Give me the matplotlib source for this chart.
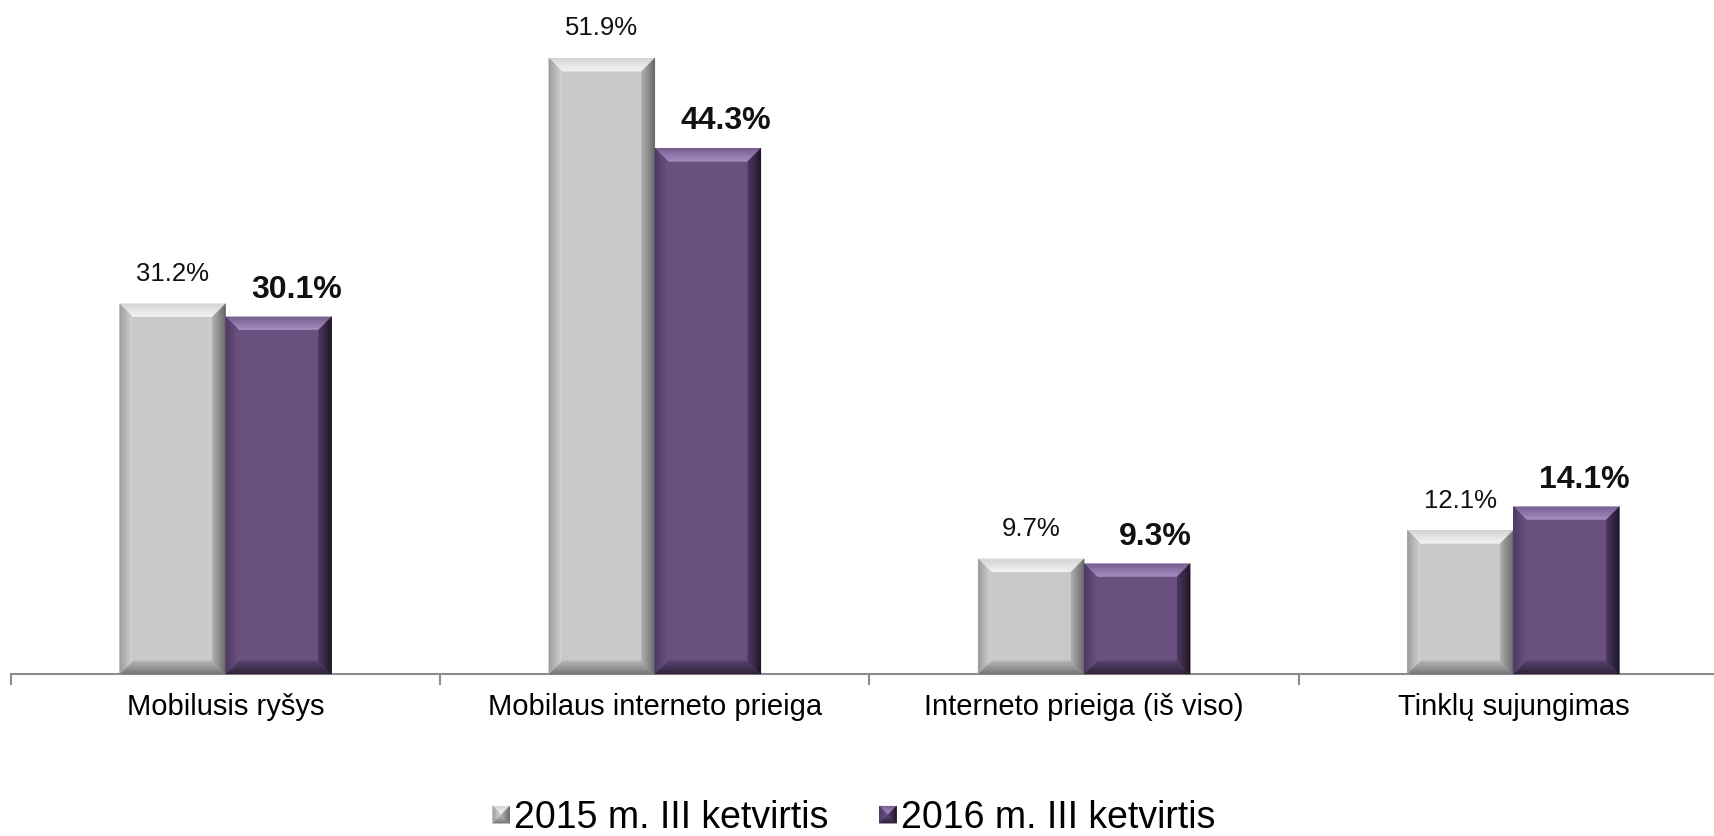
import matplotlib
matplotlib.use("Agg")
import matplotlib.pyplot as plt
import numpy as np
from matplotlib.patches import Polygon
from matplotlib.transforms import IdentityTransform
from matplotlib.legend_handler import HandlerBase
from matplotlib.colors import to_rgb

plt.rcParams['font.family'] = ['Liberation Sans', 'DejaVu Sans']

categories = ["Mobilusis ryšys", "Mobilaus interneto prieiga",
              "Interneto prieiga (iš viso)", "Tinklų sujungimas"]
series_names = ["2015 m. III ketvirtis", "2016 m. III ketvirtis"]
values_2015 = [31.2, 51.9, 9.7, 12.1]
values_2016 = [30.1, 44.3, 9.3, 14.1]

GRAY = dict(face="#c9c9c9", top=("#d4d4d4", "#f4f4f4"), left=("#9a9a9a", "#d2d2d2"),
            right=("#646464", "#acacac"), bottom=("#727272", "#b4b4b4"))
PURP = dict(face="#69507f", top=("#785f92", "#a68ec2"), left=("#4c3860", "#6a5282"),
            right=("#1c1424", "#4a3860"), bottom=("#2c2036", "#56416c"))

DPI = 100
fig = plt.figure(figsize=(17.15, 8.36), dpi=DPI)
ax = fig.add_axes([11 / 1715, 162 / 836, 1717 / 1715, 674 / 836])

x = np.arange(len(categories))
w = 0.247
bars1 = ax.bar(x - w / 2, values_2015, w, color=GRAY["face"], zorder=2)
bars2 = ax.bar(x + w / 2, values_2016, w, color=PURP["face"], zorder=2)

ax.set_xlim(-0.5, len(categories) - 0.5)
ax.set_ylim(0, 56.8)
for s in ["top", "right", "left"]:
    ax.spines[s].set_visible(False)
ax.spines["bottom"].set_color("#8c8c8c")
ax.spines["bottom"].set_linewidth(1.5)
ax.set_yticks([])
ax.set_xticks(np.arange(len(categories) + 1) - 0.5)
ax.set_xticklabels([])
ax.tick_params(axis="x", which="major", length=8, width=1.5, color="#8c8c8c", direction="out")
ax.set_xticks(x, minor=True)
ax.set_xticklabels(categories, minor=True, fontsize=21)
ax.tick_params(axis="x", which="minor", length=0, pad=14)


def mix(c1, c2, t):
    a, b = np.array(to_rgb(c1)), np.array(to_rgb(c2))
    return tuple(a + (b - a) * t)


def bevel_polys(x0, y0, x1, y1, b, n, style, add):
    for i in range(n):
        d0 = b * i / n
        d1 = b * (i + 1) / n
        t = (i + 0.5) / n
        ox0, oy0, ox1, oy1 = x0 + d0, y0 + d0, x1 - d0, y1 - d0
        ix0, iy0, ix1, iy1 = x0 + d1, y0 + d1, x1 - d1, y1 - d1
        add([(ox0, oy1), (ox1, oy1), (ix1, iy1), (ix0, iy1)], mix(*style["top"], t))
        add([(ox0, oy0), (ox1, oy0), (ix1, iy0), (ix0, iy0)], mix(*style["bottom"], t))
        add([(ox0, oy0), (ix0, iy0), (ix0, iy1), (ox0, oy1)], mix(*style["left"], t))
        add([(ox1, oy0), (ix1, iy0), (ix1, iy1), (ox1, oy1)], mix(*style["right"], t))


def add_bevels(bars, style, b=13, n=7):
    def add(pts, c):
        fig.patches.append(Polygon(pts, closed=True, facecolor=c, edgecolor=c, lw=0.3,
                                   transform=IdentityTransform(), figure=fig, zorder=2.5))
    for r in bars:
        (px0, py0) = ax.transData.transform((r.get_x(), 0))
        (px1, py1) = ax.transData.transform((r.get_x() + r.get_width(), r.get_height()))
        bevel_polys(px0, py0, px1, py1, b, n, style, add)


add_bevels(bars1, GRAY)
add_bevels(bars2, PURP)

for r, v in zip(bars1, values_2015):
    ax.annotate(f"{v:.1f}%", (r.get_x() + r.get_width() / 2, v), xytext=(0, 21.5),
                textcoords="offset points", ha="center", va="center", fontsize=18.5, color="#111111")
for r, v in zip(bars2, values_2016):
    ax.annotate(f"{v:.1f}%", (r.get_x() + r.get_width() / 2, v), xytext=(13, 19.5),
                textcoords="offset points", ha="center", va="center", fontsize=23,
                fontweight="bold", color="#111111")


class BevelHandler(HandlerBase):
    def __init__(self, style):
        super().__init__()
        self.style = style

    def create_artists(self, legend, orig_handle, xdescent, ydescent, width, height, fontsize, trans):
        s = min(width, height)
        x0 = -xdescent + (width - s) / 2
        y0 = -ydescent + (height - s) / 2
        x1, y1 = x0 + s, y0 + s
        arts = []
        arts.append(Polygon([(x0, y0), (x1, y0), (x1, y1), (x0, y1)], closed=True,
                            facecolor=self.style["face"], edgecolor="none", transform=trans))

        def add(pts, c):
            arts.append(Polygon(pts, closed=True, facecolor=c, edgecolor=c, lw=0.2, transform=trans))
        bevel_polys(x0, y0, x1, y1, s * 0.45, 4, self.style, add)
        return arts


h1 = Polygon([(0, 0)], closed=True)
h2 = Polygon([(0, 0)], closed=True)
fig.legend([h1, h2], series_names, loc="center", bbox_to_anchor=(854 / 1715, 18 / 836),
           ncol=2, frameon=False, fontsize=27, handlelength=0.46, handleheight=0.46,
           handletextpad=0.12, columnspacing=1.35, borderpad=0,
           handler_map={h1: BevelHandler(GRAY), h2: BevelHandler(PURP)})

fig.savefig("out.png", dpi=DPI)
